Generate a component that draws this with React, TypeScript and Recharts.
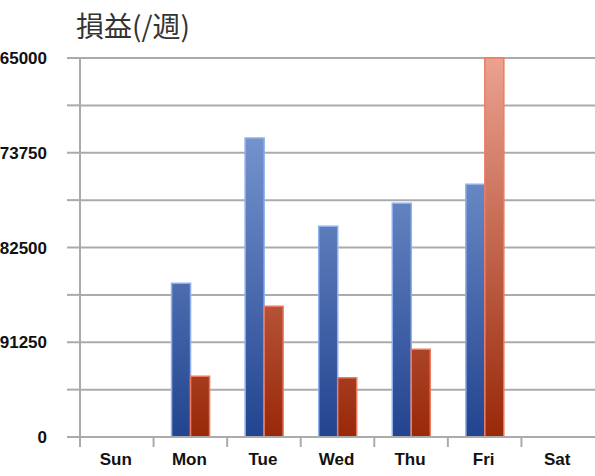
import * as React from "react";
import { Bar, BarChart, CartesianGrid, XAxis, YAxis } from "recharts";

const days = ["Sun", "Mon", "Tue", "Wed", "Thu", "Fri", "Sat"];
const seriesA = [0, 148000, 288000, 203000, 225000, 243500, 0];
const seriesB = [0, 58500, 126000, 57000, 84500, 365000, 0];
const yTicks = [0, 45625, 91250, 136875, 182500, 228125, 273750, 319375, 365000];
const yLabels = [0, 91250, 182500, 273750, 365000];

const W = 595;
const H = 476;
const PLOT_LEFT = 80;
const PLOT_TOP = 58;
const PLOT_BOTTOM = 437;
const BAND = (W - PLOT_LEFT) / days.length;
const GRID = "#ababab";

const data = days.map((d, i) => ({ day: d, a: seriesA[i], b: seriesB[i] }));

function DayTick(props: any) {
  const { x, payload } = props;
  const left = x - BAND / 2;
  return (
    <g>
      <line x1={left} x2={left} y1={PLOT_BOTTOM} y2={PLOT_BOTTOM + 10} stroke={GRID} strokeWidth={2} />
      <text
        x={x - 1}
        y={PLOT_BOTTOM + 28}
        textAnchor="middle"
        fontFamily="Liberation Sans, Arial, sans-serif"
        fontWeight="bold"
        fontSize={17}
        fill="#111"
      >
        {payload.value}
      </text>
    </g>
  );
}

export default function App() {
  return (
    <div style={{ position: "absolute", left: 0, top: 0, width: W, height: H, overflow: "hidden", background: "#fff" }}>
      <div
        style={{
          position: "absolute",
          left: 76,
          top: 7,
          fontFamily: "'Noto Sans CJK JP', 'Noto Sans CJK SC', sans-serif",
          fontSize: 28,
          lineHeight: "36px",
          color: "#333",
        }}
      >
        損益(/週)
      </div>
      <BarChart
        width={W}
        height={H}
        data={data}
        margin={{ top: PLOT_TOP, right: 0, left: 0, bottom: 0 }}
        barCategoryGap="24%"
        barGap={0}
      >
        <defs>
          <linearGradient id="gBlue" gradientUnits="userSpaceOnUse" x1="0" y1={PLOT_TOP} x2="0" y2={PLOT_BOTTOM}>
            <stop offset="0%" stopColor="#8AA8DE" />
            <stop offset="100%" stopColor="#22448F" />
          </linearGradient>
          <linearGradient id="gRed" gradientUnits="userSpaceOnUse" x1="0" y1={PLOT_TOP} x2="0" y2={PLOT_BOTTOM}>
            <stop offset="0%" stopColor="#EBA290" />
            <stop offset="100%" stopColor="#982808" />
          </linearGradient>
        </defs>
        <CartesianGrid vertical={false} horizontal stroke={GRID} strokeWidth={2} horizontalValues={yTicks} />
        <XAxis
          dataKey="day"
          height={H - PLOT_BOTTOM}
          axisLine={{ stroke: GRID, strokeWidth: 2 }}
          tickLine={false}
          tick={<DayTick />}
          interval={0}
        />
        <YAxis
          width={PLOT_LEFT}
          domain={[0, 365000]}
          ticks={yTicks}
          interval={0}
          tickSize={13}
          tickMargin={20}
          axisLine={{ stroke: GRID, strokeWidth: 2 }}
          tickLine={{ stroke: GRID, strokeWidth: 2 }}
          tickFormatter={(v: number) => (yLabels.includes(v) ? String(v) : "")}
          tick={{ fontFamily: "Liberation Sans, Arial, sans-serif", fontWeight: "bold", fontSize: 17, fill: "#111" }}
        />
        <Bar dataKey="a" barSize={19} fill="url(#gBlue)" stroke="#8FB0EC" strokeWidth={1.5} isAnimationActive={false} />
        <Bar dataKey="b" barSize={19} fill="url(#gRed)" stroke="#EE7A62" strokeWidth={1.5} isAnimationActive={false} />
      </BarChart>
    </div>
  );
}
